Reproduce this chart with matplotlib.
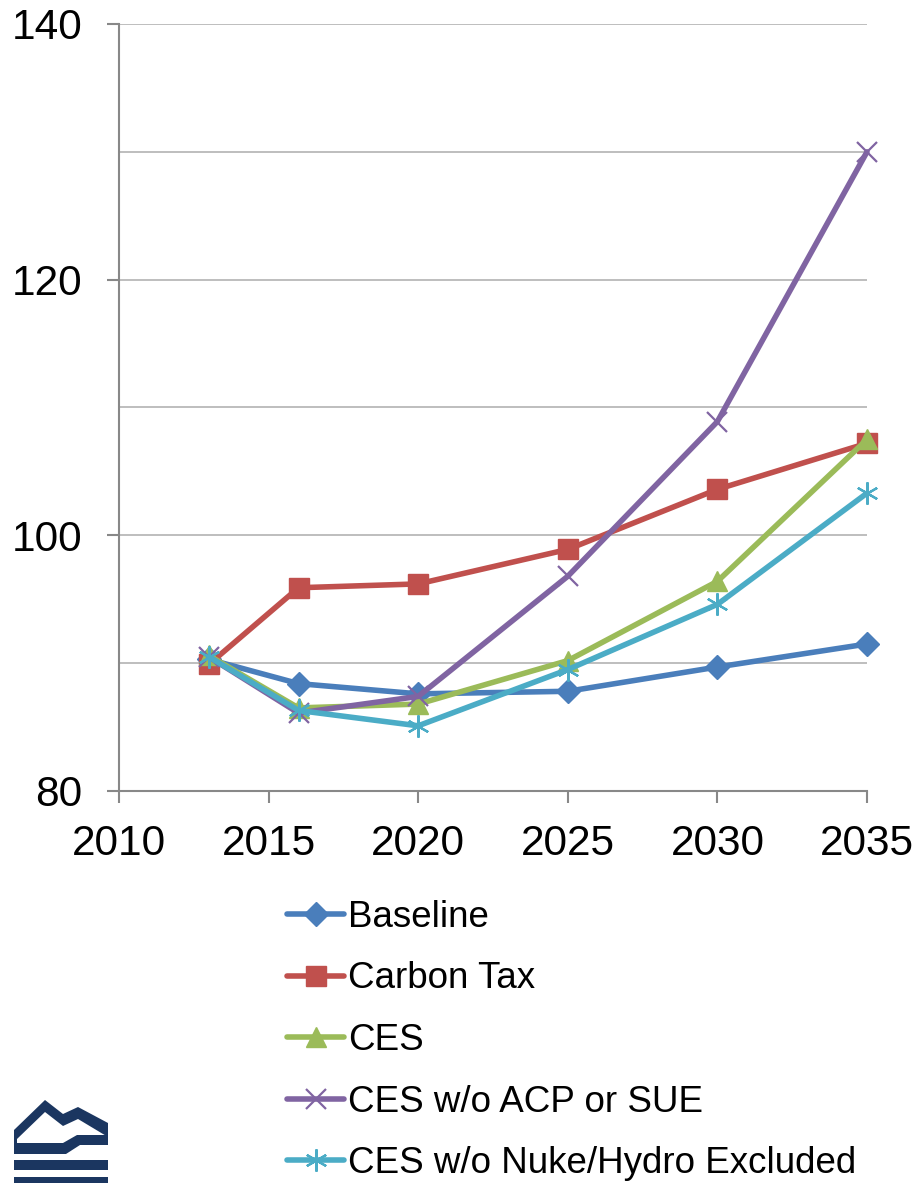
import matplotlib
matplotlib.use("Agg")
import matplotlib.pyplot as plt
from matplotlib.patches import Polygon, Rectangle

plt.rcParams['font.family'] = ['Liberation Sans', 'DejaVu Sans']

years = [2013, 2016, 2020, 2025, 2030, 2035]
baseline = [90.3, 88.4, 87.6, 87.8, 89.7, 91.5]
carbon_tax = [89.9, 95.9, 96.2, 98.9, 103.6, 107.2]
ces = [90.6, 86.5, 86.8, 90.2, 96.4, 107.5]
ces_no_acp = [90.5, 86.1, 87.4, 96.8, 108.9, 130.0]
ces_no_nuke = [90.5, 86.3, 85.1, 89.5, 94.6, 103.3]

series = [
    ("Baseline", baseline, "#4A7EBB", "D", 12, 1),
    ("Carbon Tax", carbon_tax, "#C0504D", "s", 14, 1),
    ("CES", ces, "#9BBB59", "^", 15, 1),
    ("CES w/o ACP or SUE", ces_no_acp, "#8064A2", "x", 14, 1.6),
    ("CES w/o Nuke/Hydro Excluded", ces_no_nuke, "#4BACC6", (6, 2, 0), 16, 1.6),
]

fig = plt.figure(figsize=(9.19, 11.83), dpi=100)
ax = fig.add_axes([119 / 919, 1 - 791 / 1183, 748 / 919, 767 / 1183])

for name, vals, col, mk, ms, mew in series:
    ax.plot(years, vals, color=col, lw=4, marker=mk, markersize=ms,
            markeredgewidth=mew, markeredgecolor=col, markerfacecolor=col,
            label=name, solid_capstyle='round', clip_on=False)

ax.set_xlim(2010, 2035)
ax.set_ylim(80, 140)
ax.set_xticks(range(2010, 2036, 5))
ax.set_yticks([80, 100, 120, 140])
ax.set_yticks([90, 110, 130], minor=True)
ax.grid(True, which='both', axis='y', color='#B3B3B3', lw=1.2)
ax.set_axisbelow(True)
for s in ['top', 'right']:
    ax.spines[s].set_visible(False)
for s in ['left', 'bottom']:
    ax.spines[s].set_color('#888888')
    ax.spines[s].set_linewidth(1.5)
ax.tick_params(axis='both', which='major', labelsize=30.5, color='#888888',
               width=1.5, length=8.6, direction='out')
ax.tick_params(axis='y', which='minor', length=0)
ax.tick_params(axis='x', pad=15)
ax.tick_params(axis='y', pad=18)

handles, labels = ax.get_legend_handles_labels()
fig.legend(handles, labels, loc='upper left',
           bbox_to_anchor=(287 / 919, 1 - 900 / 1183),
           frameon=False, fontsize=26.5, handlelength=1.55,
           handletextpad=0.12, labelspacing=0.72, borderpad=0,
           borderaxespad=0)

# logo in the lower left corner
lax = fig.add_axes([0, 0, 1, 1], zorder=-1)
lax.set_xlim(0, 919)
lax.set_ylim(1183, 0)
lax.axis('off')
navy = '#1B3660'
roof = [(14, 1130), (45, 1100), (63, 1114), (78, 1107), (108, 1123),
        (108, 1137), (78, 1119), (63, 1126), (45, 1112), (17, 1139),
        (17, 1143), (14, 1143)]
band = [(14, 1143), (63, 1143), (77, 1135), (108, 1135), (108, 1145),
        (80, 1145), (66, 1154), (14, 1154)]
lax.add_patch(Polygon(roof, closed=True, color=navy, lw=0))
lax.add_patch(Polygon(band, closed=True, color=navy, lw=0))
lax.add_patch(Rectangle((14, 1160), 94, 10, color=navy, lw=0))
lax.add_patch(Rectangle((14, 1177), 94, 8, color=navy, lw=0))

fig.savefig("out.png", dpi=100)
